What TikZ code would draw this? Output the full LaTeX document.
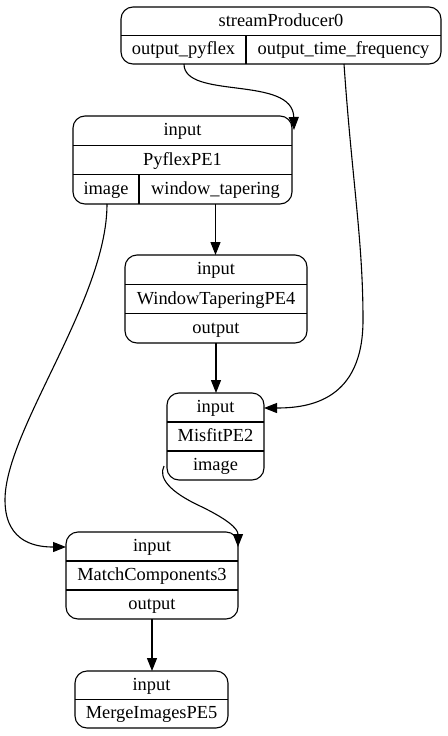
\documentclass[tikz,border=0pt]{standalone}
\usepackage{fontspec}
\setmainfont{Liberation Serif}
\usetikzlibrary{arrows.meta}
\tikzset{
  recbox/.style={draw, rounded corners=12pt, line width=1.1pt, inner sep=0pt},
  divline/.style={line width=1.1pt},
  lbl/.style={inner sep=0pt, font=\fontsize{18.4}{22}\selectfont, text height=12pt, text depth=2pt},
  edge/.style={line width=1.1pt, -{Triangle[length=13pt,width=10pt]}},
}
\begin{document}
\begin{tikzpicture}[x=1pt,y=-1pt]
\useasboundingbox (0,0) rectangle (447,736);
\fill[white] (0,0) rectangle (447,736);

% streamProducer0
\node[recbox, minimum width=320pt, minimum height=57pt] (sp) at (281,35.5) {};
\draw[divline] (121,35.5) -- (441,35.5);
\draw[divline] (246,35.5) -- (246,64);
\node[lbl] (sp-t) at (281,21.25) {streamProducer0};
\node[lbl] (sp-a) at (183.5,49.75) {output\_pyflex};
\node[lbl] (sp-b) at (343.5,49.75) {output\_time\_frequency};

% PyflexPE1
\node[recbox, minimum width=219pt, minimum height=88pt] (py) at (182.5,160) {};
\draw[divline] (73,145.3) -- (292,145.3);
\draw[divline] (73,174.7) -- (292,174.7);
\draw[divline] (139,174.7) -- (139,204);
\node[lbl] (py-in) at (182.5,130.6) {input};
\node[lbl] (py-t) at (182.5,160) {PyflexPE1};
\node[lbl] (py-a) at (106,189.3) {image};
\node[lbl] (py-b) at (215.5,189.3) {window\_tapering};

% WindowTaperingPE4
\node[recbox, minimum width=182pt, minimum height=88pt] (wt) at (216,299) {};
\draw[divline] (125,284.3) -- (307,284.3);
\draw[divline] (125,313.7) -- (307,313.7);
\node[lbl] (wt-in) at (216,269.6) {input};
\node[lbl] (wt-t) at (216,299) {WindowTaperingPE4};
\node[lbl] (wt-o) at (216,328.3) {output};

% MisfitPE2
\node[recbox, minimum width=97pt, minimum height=87pt] (mf) at (215.5,436.5) {};
\draw[divline] (167,422) -- (264,422);
\draw[divline] (167,451) -- (264,451);
\node[lbl] (mf-in) at (215.5,407.5) {input};
\node[lbl] (mf-t) at (215.5,436.5) {MisfitPE2};
\node[lbl] (mf-o) at (215.5,465.5) {image};

% MatchComponents3
\node[recbox, minimum width=172pt, minimum height=87pt] (mc) at (152,575.5) {};
\draw[divline] (66,561) -- (238,561);
\draw[divline] (66,590) -- (238,590);
\node[lbl] (mc-in) at (152,546.5) {input};
\node[lbl] (mc-t) at (152,575.5) {MatchComponents3};
\node[lbl] (mc-o) at (152,604.5) {output};

% MergeImagesPE5
\node[recbox, minimum width=153pt, minimum height=57pt] (mi) at (151.5,699.5) {};
\draw[divline] (75,699.5) -- (228,699.5);
\node[lbl] (mi-in) at (151.5,685.25) {input};
\node[lbl] (mi-t) at (151.5,713.75) {MergeImagesPE5};

% port coordinates
\coordinate (sp-a-s) at (184,64);
\coordinate (sp-b-s) at (344,64);
\coordinate (py-in-ne) at (294,130);
\coordinate (py-a-s) at (107,204);
\coordinate (py-b-s) at (215.5,204);
\coordinate (wt-in-n) at (215.5,255);
\coordinate (wt-o-s) at (216,343);
\coordinate (mf-in-n) at (216,393);
\coordinate (mf-in-e) at (264,408);
\coordinate (mf-o-w) at (164,466);
\coordinate (mc-in-w) at (66,547);
\coordinate (mc-in-ne) at (238,547);
\coordinate (mc-o-s) at (152,619);
\coordinate (mi-in-n) at (152,671);

% edges
\draw[edge] (sp-a-s) .. controls (184,100) and (293,75) .. (py-in-ne);
\draw[edge] (sp-b-s) .. controls (352,180) and (363,240) .. (363,320) .. controls (363,400) and (310,408) .. (mf-in-e);
\draw[edge] (py-b-s) -- (wt-in-n);
\draw[edge] (wt-o-s) -- (mf-in-n);
\draw[edge] (py-a-s) .. controls (107,300) and (5,430) .. (5,500) .. controls (5,545) and (40,547) .. (mc-in-w);
\draw[edge] (mf-o-w) .. controls (158,478) and (170,492) .. (200,506) .. controls (225,518) and (238,528) .. (mc-in-ne);
\draw[edge] (mc-o-s) -- (mi-in-n);
\end{tikzpicture}
\end{document}
